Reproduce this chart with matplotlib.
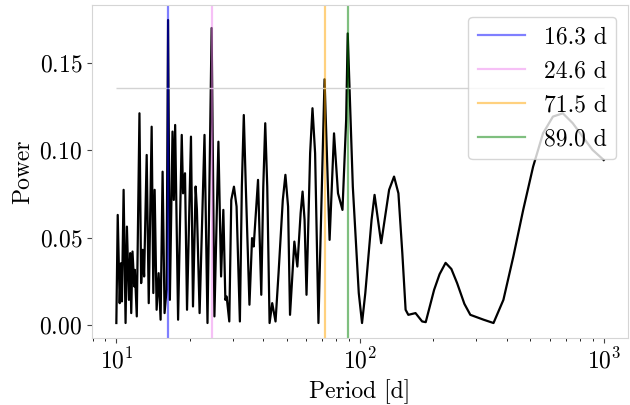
import matplotlib
matplotlib.use("Agg")
import matplotlib.pyplot as plt

plt.rcParams['font.family'] = ['cmr10', 'DejaVu Serif']
plt.rcParams['mathtext.fontset'] = 'cm'
plt.rcParams['axes.formatter.use_mathtext'] = True
plt.rcParams['axes.unicode_minus'] = False
plt.rcParams['font.size'] = 17

# periodogram
period = [10.0, 10.13, 10.32, 10.45, 10.54, 10.71, 10.91, 11.05, 11.26, 11.40,
          11.51, 11.65, 11.84, 11.91, 12.13, 12.44, 12.64, 12.84, 13.00, 13.32,
          13.58, 13.96, 14.18, 14.36, 14.63, 14.91, 15.19, 15.48, 15.77, 16.07,
          16.3, 16.58, 17.00, 17.21, 17.43, 17.92, 18.55, 18.78, 19.13, 19.50,
          20.24, 20.63, 21.15, 21.41, 21.96, 23.00, 23.66, 24.6, 25.26, 26.23,
          26.90, 27.48, 28.01, 28.35, 29.07, 29.62, 30.38, 31.14, 32.13, 32.73,
          33.34, 33.98, 35.17, 36.05, 36.6, 38.14, 39.33, 40.08, 40.83, 41.61,
          42.54, 43.61, 45.0, 46.3, 48.2, 49.4, 50.66, 51.6, 53.76, 55.3,
          57.04, 58.1, 59.2, 60.3, 62.4, 63.8, 65.4, 67.5, 70.3, 71.5,
          75.0, 78.2, 81.2, 84.7, 87.7, 89.0, 93.4, 98.8, 101.9, 105.1,
          111.5, 114.7, 122.1, 131.6, 137.9, 143.7, 149.1, 153.8, 157.8, 168.9,
          179.8, 186.0, 201.3, 212.0, 224.4, 237.0, 250.2, 268.0, 283.5, 321.4,
          352.9, 387.5, 425.6, 467.2, 513.1, 563.4, 618.7, 679.4, 746.2, 819.1,
          899.7, 1000.0]
power = [0.001, 0.063, 0.0124, 0.0353, 0.0134, 0.0774, 0.001, 0.0563, 0.0143, 0.0411,
         0.0067, 0.042, 0.022, 0.0315, 0.0048, 0.1213, 0.0239, 0.043, 0.0277, 0.0974,
         0.0124, 0.1136, 0.0182, 0.0774, 0.0086, 0.0296, 0.0029, 0.0878, 0.0067, 0.02,
         0.1748, 0.0143, 0.1108, 0.0716, 0.1146, 0.0029, 0.1089, 0.0754, 0.0869, 0.0086,
         0.1079, 0.0105, 0.0793, 0.0659, 0.0067, 0.1089, 0.001, 0.1702, 0.0048, 0.105,
         0.0277, 0.0659, 0.0143, 0.0162, 0.0019, 0.0716, 0.0792, 0.0678, 0.0019, 0.0792,
         0.1203, 0.0792, 0.0115, 0.0497, 0.0449, 0.0831, 0.0172, 0.0792, 0.1156, 0.0792,
         0.001, 0.0124, 0.0019, 0.0296, 0.0716, 0.086, 0.0678, 0.0057, 0.0477, 0.0334,
         0.064, 0.0764, 0.0602, 0.0172, 0.0984, 0.1242, 0.0984, 0.001, 0.0984, 0.1408,
         0.0487, 0.1098, 0.0754, 0.0659, 0.1175, 0.1671, 0.0792, 0.0182, 0.001, 0.0182,
         0.0602, 0.0745, 0.0468, 0.0774, 0.085, 0.0754, 0.0411, 0.0086, 0.0057, 0.0067,
         0.0019, 0.0015, 0.020, 0.029, 0.0355, 0.032, 0.0239, 0.012, 0.0057, 0.0029,
         0.001, 0.0143, 0.0391, 0.0659, 0.0907, 0.1098, 0.1194, 0.1213, 0.1156, 0.1079,
         0.1003, 0.0945]

peak_periods = [16.3, 24.6, 71.5, 89.0]
peak_colors = ['blue', 'violet', 'orange', 'green']
threshold = 0.1357

fig = plt.figure(figsize=(6.3, 4.05), dpi=100)
ax = fig.add_axes([0.146, 0.165, 0.851, 0.823])

ax.plot(period, power, color='black', lw=1.6)
ax.hlines(threshold, 10, 1000, color='lightgray', lw=1)
for p, c in zip(peak_periods, peak_colors):
    ax.axvline(p, color=c, alpha=0.5, lw=1.6, label=f'{p:.1f} d')

ax.set_xscale('log')
ax.set_xlabel('Period [d]')
ax.set_ylabel('Power')
ax.set_yticks([0.0, 0.05, 0.10, 0.15])

for s in ax.spines.values():
    s.set_color('#d5d5d5')
ax.tick_params(colors='#444444', labelcolor='black')

ax.legend(loc='upper right')

fig.savefig('out.png', dpi=100)
